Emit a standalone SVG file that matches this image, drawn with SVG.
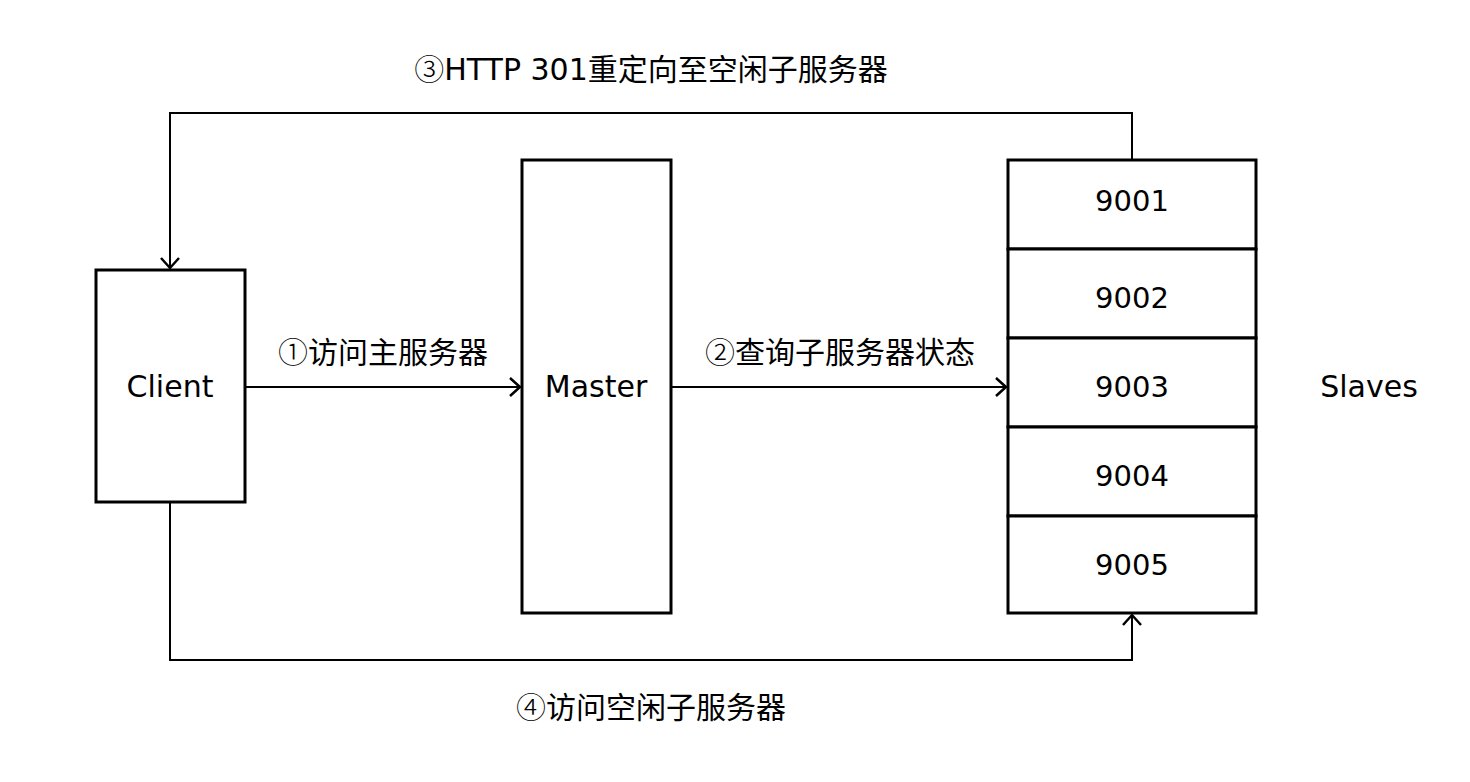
<svg xmlns="http://www.w3.org/2000/svg" width="1470" height="782" viewBox="0 0 1470 782">
<style>
.box{fill:#fff;stroke:#000;stroke-width:3}
.ln{fill:none;stroke:#000;stroke-width:2}
.t{font-family:"DejaVu Sans","Noto Sans CJK SC",sans-serif;font-size:30px;fill:#000;text-anchor:middle}
.n{font-size:29px}
.c{font-family:"Noto Sans CJK SC",sans-serif;font-weight:300}
</style>
<defs>
<marker id="arr" viewBox="0 0 20 20" refX="18" refY="10" markerWidth="20" markerHeight="20" markerUnits="userSpaceOnUse" orient="auto">
<path d="M8,1 L18,10 L8,19" fill="none" stroke="#000" stroke-width="2.5"/>
</marker>
</defs>
<rect width="1470" height="782" fill="#fff"/>
<g id="connectors">
<path class="ln" d="M245,387 H520" marker-end="url(#arr)"/>
<path class="ln" d="M671,387 H1006" marker-end="url(#arr)"/>
<path class="ln" d="M1132,160 V113 H170 V268" marker-end="url(#arr)"/>
<path class="ln" d="M170,502 V660 H1132 V615" marker-end="url(#arr)"/>
</g>
<g id="client"><rect class="box" x="96" y="270" width="149" height="232"/><text class="t" x="170" y="397">Client</text></g>
<g id="master"><rect class="box" x="522" y="160" width="149" height="453"/><text class="t" x="596" y="397">Master</text></g>
<g id="slave9001"><rect class="box" x="1008" y="160" width="248" height="89"/><text class="t n" x="1132" y="211">9001</text></g>
<g id="slave9002"><rect class="box" x="1008" y="249" width="248" height="89"/><text class="t n" x="1132" y="308">9002</text></g>
<g id="slave9003"><rect class="box" x="1008" y="338" width="248" height="89"/><text class="t n" x="1132" y="397">9003</text></g>
<g id="slave9004"><rect class="box" x="1008" y="427" width="248" height="89"/><text class="t n" x="1132" y="486">9004</text></g>
<g id="slave9005"><rect class="box" x="1008" y="516" width="248" height="97"/><text class="t n" x="1132" y="575">9005</text></g>
<g id="slaves-label"><text class="t" x="1369" y="397">Slaves</text></g>
<g id="labels">
<text class="t" x="651" y="80"><tspan class="c">③</tspan>HTTP 301重定向至空闲子服务器</text>
<text class="t" x="383" y="363"><tspan class="c">①</tspan>访问主服务器</text>
<text class="t" x="840" y="363"><tspan class="c">②</tspan>查询子服务器状态</text>
<text class="t" x="651" y="718"><tspan class="c">④</tspan>访问空闲子服务器</text>
</g>
</svg>
